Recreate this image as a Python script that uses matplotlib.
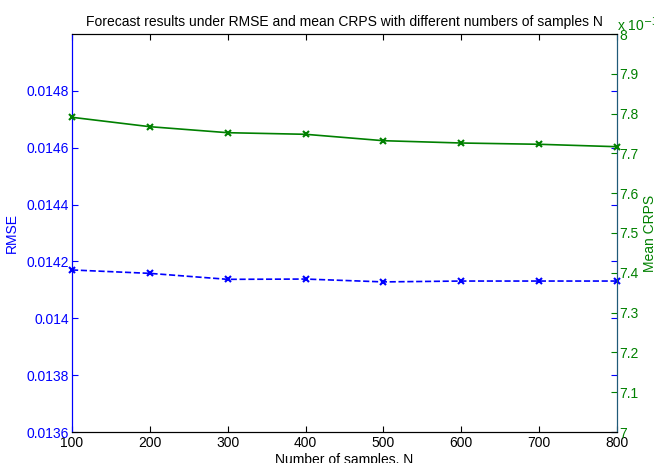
import numpy as np
import matplotlib.pyplot as plt
from matplotlib.ticker import FixedLocator

plt.rcParams['font.family'] = ['Liberation Sans', 'DejaVu Sans']

n_samples = [100, 200, 300, 400, 500, 600, 700, 800]
rmse = [0.014170, 0.014158, 0.014137, 0.014138, 0.014128, 0.014131, 0.014131, 0.014131]
crps = [7.7907, 7.7671, 7.7520, 7.7480, 7.7319, 7.7261, 7.7229, 7.7168]  # x 1e-3

blue = (0, 0, 1)
green = (0, 0.5, 0)

fig = plt.figure(figsize=(6.54, 4.63), dpi=100)
ax1 = fig.add_axes([72 / 654, 31 / 463, 545 / 654, 398 / 463])
ax2 = ax1.twinx()

ax1.plot(n_samples, rmse, '--', color=blue, marker='x', markersize=5, linewidth=1.2,
         markeredgewidth=1.5, clip_on=False, zorder=3)
ax2.plot(n_samples, crps, '-', color=green, marker='x', markersize=5, linewidth=1.2,
         markeredgewidth=1.5, clip_on=False, zorder=3)

ax1.set_xlim(100, 800)
ax1.set_ylim(0.0136, 0.0150)
ax2.set_ylim(7.0, 8.0)

ax1.set_xticks(n_samples)
ax1.yaxis.set_major_locator(FixedLocator([0.0136, 0.0138, 0.014, 0.0142, 0.0144, 0.0146, 0.0148]))
ax1.set_yticklabels(['0.0136', '0.0138', '0.014', '0.0142', '0.0144', '0.0146', '0.0148'])
ax2.set_yticks(np.round(np.arange(7.0, 8.01, 0.1), 1))
ax2.set_yticklabels(['7', '7.1', '7.2', '7.3', '7.4', '7.5', '7.6', '7.7', '7.8', '7.9', '8'])

fs = 10
ax1.tick_params(axis='x', direction='in', length=4, labelsize=fs, top=True, colors='black', pad=3)
ax1.tick_params(axis='y', direction='in', length=4, labelsize=fs, right=True, colors=blue, pad=2)
ax2.tick_params(axis='y', direction='in', length=4, labelsize=fs, colors=green, pad=1.5)

ax1.spines['left'].set_color(blue)
ax2.spines['left'].set_color(blue)
ax1.spines['right'].set_color('#1f5a78')
ax2.spines['right'].set_color('#1f5a78')
for ax in (ax1, ax2):
    ax.spines['top'].set_color('black')
    ax.spines['bottom'].set_color('black')

ax1.set_xlabel('Number of samples, N', fontsize=fs)
ax1.xaxis.set_label_coords(0.5, -0.053)
ax1.set_ylabel('RMSE', fontsize=fs, color=blue)
ax1.yaxis.set_label_coords(-0.097, 0.5)
ax2.set_ylabel('Mean CRPS', fontsize=fs, color=green)
ax2.yaxis.set_label_coords(1.048, 0.5)
ax1.set_title('Forecast results under RMSE and mean CRPS with different numbers of samples N',
              fontsize=fs, pad=6)

fig.text(617 / 654, (463 - 31) / 463, r'x 10$^{-3}$', color=green, fontsize=fs,
         ha='left', va='baseline')

fig.savefig('out.png', dpi=100)
